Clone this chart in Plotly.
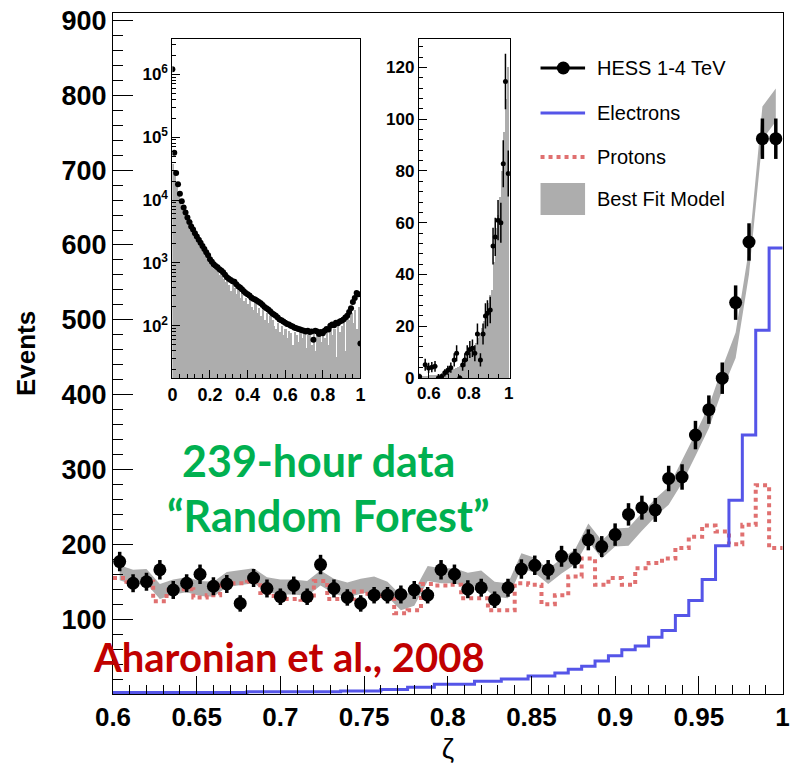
import numpy as np
import plotly.graph_objects as go

# ---------------- main panel data (50 bins of width 0.008 from 0.6 to 1.0) ----------------
bin_edges = np.linspace(0.6, 1.0, 51)
bin_centers = (bin_edges[:-1] + bin_edges[1:]) / 2

hess_events = [177, 148, 150, 166, 139, 148, 160, 144, 147, 121,
               155, 141, 130, 145, 130, 173, 141, 129, 121, 132,
               132, 133, 139, 132, 166, 160, 140, 142, 126, 142,
               167, 172, 166, 184, 181, 206, 197, 213, 240, 249,
               246, 288, 290, 346, 380, 422, 523, 604, 742, 742]
hess_errors = [13, 12, 12, 13, 12, 12, 13, 12, 12, 11,
               12, 12, 11, 12, 11, 13, 12, 11, 11, 11,
               11, 12, 12, 11, 13, 13, 12, 12, 11, 12,
               13, 13, 13, 14, 13, 14, 14, 15, 15, 16,
               16, 17, 17, 19, 19, 21, 23, 25, 27, 27]
model_center = [162, 156, 157, 137, 143, 146, 141, 140, 153, 156,
                158, 146, 143, 143, 141, 155, 144, 139, 144, 147,
                140, 122, 128, 161, 158, 158, 152, 155, 140, 138,
                178, 172, 157, 171, 183, 216, 193, 209, 210, 230,
                249, 265, 297, 333, 370, 421, 466, 578, 763, 787]
model_halfwidth = [10, 10, 10, 10, 10, 10, 10, 10, 10, 10,
                   10, 10, 10, 10, 10, 10, 10, 10, 10, 10,
                   10, 10, 10, 10, 10, 10, 10, 10, 10, 10,
                   10, 10, 10, 10, 10, 12, 12, 12, 12, 12,
                   12, 12, 15, 15, 15, 15, 17, 17, 22, 22]
electrons = [2, 2, 2, 2, 2, 2, 2, 2, 2, 2,
             3, 3, 3, 3, 3, 3, 3, 4, 4, 4,
             6, 6, 9, 9, 13, 13, 13, 17, 17, 20,
             20, 24, 24, 28, 33, 37, 44, 51, 59, 64,
             76, 85, 105, 125, 153, 198, 259, 346, 486, 596]
protons = [155, 150, 150, 124, 139, 140, 129, 132, 145, 148,
           150, 135, 127, 127, 126, 151, 127, 127, 137, 131,
           131, 108, 112, 147, 145, 146, 128, 128, 112, 112,
           148, 146, 120, 132, 157, 181, 146, 155, 146, 168,
           175, 181, 195, 210, 225, 217, 200, 226, 279, 195]

x_tickvals = [0.6, 0.65, 0.7, 0.75, 0.8, 0.85, 0.9, 0.95, 1.0]
x_ticktext = ["0.6", "0.65", "0.7", "0.75", "0.8", "0.85", "0.9", "0.95", "1"]
y_tickvals = [100, 200, 300, 400, 500, 600, 700, 800, 900]

# ---------------- inset 1 (log scale, zeta 0..1) ----------------
inset1_x = [round(0.01 * i, 2) for i in range(101)]
inset1_log_points = [6.08, 4.75, 4.43, 4.25, 4.10, 3.98, 3.88, 3.80, 3.72, 3.65,
                     3.58, 3.53, 3.47, 3.42, 3.37, 3.32, 3.27, 3.22, 3.17, 3.12,
                     3.06, 3.02, 2.98, 2.95, 2.93, 2.90, 2.88, 2.85, 2.81, 2.77,
                     2.75, 2.73, 2.71, 2.70, 2.66, 2.63, 2.61, 2.58, 2.55, 2.52,
                     2.50, 2.48, 2.45, 2.43, 2.42, 2.40, 2.38, 2.36, 2.33, 2.30,
                     2.28, 2.26, 2.23, 2.20, 2.18, 2.16, 2.13, 2.10, 2.09, 2.07,
                     2.05, 2.03, 2.02, 2.00, 1.99, 1.97, 1.96, 1.95, 1.94, 1.93,
                     1.92, 1.91, 1.92, 1.90, 1.91, 1.78, 1.92, 1.91, 1.87, 1.90,
                     1.88, 1.92, 1.95, 1.94, 2.00, 2.02, 2.01, 2.05, 2.04, 2.07,
                     2.08, 2.10, 2.13, 2.16, 2.22, 2.28, 2.38, 2.44, 2.52, 2.50,
                     1.72]
inset1_bar_x = [round(0.005 + 0.01 * i, 3) for i in range(100)]
inset1_log_bars = [4.58, 4.45, 4.25, 4.10, 3.98, 3.88, 3.80, 3.70, 3.62, 3.55,
                   3.66, 3.45, 3.40, 3.35, 3.30, 3.40, 3.20, 3.15, 3.10, 3.05,
                   3.00, 2.96, 2.90, 2.93, 2.85, 2.80, 2.85, 2.75, 2.70, 2.72,
                   2.65, 2.55, 2.68, 2.60, 2.50, 2.58, 2.45, 2.52, 2.40, 2.45,
                   2.35, 2.42, 2.30, 2.25, 2.38, 2.20, 2.28, 2.15, 2.25, 2.10,
                   2.20, 2.05, 2.15, 2.10, 2.00, 1.95, 2.05, 1.90, 2.00, 1.85,
                   1.95, 1.80, 1.92, 1.88, 1.70, 1.90, 1.85, 1.75, 1.90, 1.80,
                   1.88, 1.65, 1.85, 1.92, 1.70, 1.88, 1.60, 1.90, 1.85, 1.75,
                   1.95, 1.80, 1.90, 1.70, 2.00, 1.85, 1.95, 1.50, 2.05, 1.90,
                   2.00, 2.10, 1.60, 2.15, 2.10, 2.20, 2.05, 2.25, 1.95, 2.30]
inset1_y_tickvals = [1e2, 1e3, 1e4, 1e5, 1e6]
inset1_y_ticktext = ["10<sup>2</sup>", "10<sup>3</sup>", "10<sup>4</sup>",
                     "10<sup>5</sup>", "10<sup>6</sup>"]

# ---------------- inset 2 (linear, zeta 0.55..1) ----------------
inset2_x = [0.554, 0.582, 0.599, 0.615, 0.631, 0.648, 0.664, 0.68, 0.695, 0.71,
            0.727, 0.739, 0.755, 0.769, 0.78, 0.792, 0.805, 0.818, 0.83, 0.843,
            0.858, 0.871, 0.883, 0.893, 0.907, 0.921, 0.932, 0.946, 0.96, 0.972,
            0.983, 0.997]
inset2_y = [0.6, 5.1, 3.9, 4.2, 4.5, 0, 0.6, 2, 3, 4,
            7, 9.6, 0, 5, 7, 9.6, 11, 11.5, 9.6, 17,
            7, 17, 24, 25, 26.3, 51, 54.5, 61, 60, 82.8,
            114.6, 79]
inset2_err = [1, 2.3, 2, 2, 2.1, 1, 1, 1.4, 1.7, 2,
              2.6, 3.1, 1, 2.2, 2.6, 3.1, 3.3, 3.4, 3.1, 4.1,
              2.6, 4.1, 4.9, 5, 5.1, 7.1, 7.4, 7.8, 7.7, 9.1,
              10.7, 8.9]
inset2_bar_x = [round(0.555 + 0.01 * i, 3) for i in range(45)]
inset2_bars = [0.3, 0.5, 0.6, 0.8, 0.9, 1.0, 1.1, 1.2, 1.3, 1.5,
               1.7, 1.9, 2.1, 2.3, 2.5, 2.7, 3.0, 3.4, 3.8, 4.2,
               4.6, 5.5, 6.3, 7.0, 8.5, 9.8, 10.8, 12, 13.5, 15.5,
               17.5, 19.5, 22, 25, 29, 32, 34, 45, 58, 63,
               70, 80, 95, 108, 120]

# ---------------- styling ----------------
BLACK = "#000000"
GRAY = "#adadad"
BLUE = "#5555e8"
RED = "#e07070"
FONT = "Liberation Sans"

W, H = 792, 764
ML, MR, MT, MB = 113, 2, 13, 70
PW, PH = W - ML - MR, H - MT - MB


def px(xp):
    return (xp - ML) / PW


def py(yp):
    return (H - MB - yp) / PH


fig = go.Figure()

# model band
lower = [c - h for c, h in zip(model_center, model_halfwidth)]
upper = [c + h for c, h in zip(model_center, model_halfwidth)]
fig.add_trace(go.Scatter(x=bin_centers, y=lower, mode="lines", line=dict(width=0, color=GRAY),
                         showlegend=False, hoverinfo="skip"))
fig.add_trace(go.Scatter(x=bin_centers, y=upper, mode="lines", line=dict(width=0, color=GRAY),
                         fill="tonexty", fillcolor=GRAY, showlegend=False, name="Best Fit Model"))

# protons / electrons step histograms
fig.add_trace(go.Scatter(x=bin_edges, y=protons + [protons[-1]], mode="lines", line_shape="hv",
                         line=dict(color=RED, width=4, dash="dot"), showlegend=False, name="Protons"))
fig.add_trace(go.Scatter(x=bin_edges, y=electrons + [electrons[-1]], mode="lines", line_shape="hv",
                         line=dict(color=BLUE, width=3), showlegend=False, name="Electrons"))

# data points
fig.add_trace(go.Scatter(x=bin_centers, y=hess_events, mode="markers",
                         marker=dict(color=BLACK, size=13),
                         error_y=dict(type="data", array=hess_errors, color=BLACK, thickness=3.5, width=0),
                         showlegend=False, name="HESS 1-4 TeV"))

# inset 1
fig.add_trace(go.Bar(x=inset1_bar_x, y=[10 ** v for v in inset1_log_bars], width=0.01,
                     marker=dict(color=GRAY, line=dict(width=0)), xaxis="x2", yaxis="y2",
                     showlegend=False))
fig.add_trace(go.Scatter(x=inset1_x, y=[10 ** v for v in inset1_log_points], mode="markers",
                         marker=dict(color=BLACK, size=6), xaxis="x2", yaxis="y2", showlegend=False))

# inset 2
fig.add_trace(go.Bar(x=inset2_bar_x, y=inset2_bars, width=0.01,
                     marker=dict(color=GRAY, line=dict(width=0)), xaxis="x3", yaxis="y3",
                     showlegend=False))
fig.add_trace(go.Scatter(x=inset2_x, y=inset2_y, mode="markers",
                         marker=dict(color=BLACK, size=5),
                         error_y=dict(type="data", array=inset2_err, color=BLACK, thickness=1.5, width=0),
                         xaxis="x3", yaxis="y3", showlegend=False))

axis_common = dict(showgrid=False, zeroline=False, showline=True, linecolor=BLACK, linewidth=1,
                   mirror=True, ticks="inside", tickcolor=BLACK)

inset1_minor = [m * 10 ** d for d in range(1, 7) for m in range(2, 10)]

fig.update_layout(
    width=W, height=H,
    margin=dict(l=ML, r=MR, t=MT, b=MB),
    paper_bgcolor="white", plot_bgcolor="white",
    font=dict(family=FONT, color=BLACK),
    bargap=0,
    xaxis=dict(**axis_common, range=[0.6, 1.0003], tickvals=x_tickvals, ticktext=x_ticktext,
               ticklen=18, tickfont=dict(size=26, weight="bold", family=FONT),
               minor=dict(ticks="inside", ticklen=9, dtick=0.01, tick0=0.6, tickcolor=BLACK),
               title=dict(text="ζ", font=dict(size=28, family=FONT), standoff=8)),
    yaxis=dict(**axis_common, range=[0, 910], tickvals=y_tickvals,
               ticklen=20, tickfont=dict(size=27, weight="bold", family=FONT),
               minor=dict(ticks="inside", ticklen=10, dtick=20, tick0=0, tickcolor=BLACK),
               title=dict(text="Events", font=dict(size=26, weight="bold", family=FONT), standoff=18)),
    xaxis2=dict(**axis_common, domain=[px(173), px(363)], anchor="y2", range=[0, 1.0],
                tickvals=[0, 0.2, 0.4, 0.6, 0.8, 1.0], ticktext=["0", "0.2", "0.4", "0.6", "0.8", "1"],
                ticklen=8, tickfont=dict(size=18, weight="bold", family=FONT),
                minor=dict(ticks="inside", ticklen=4, dtick=0.04, tick0=0, tickcolor=BLACK)),
    yaxis2=dict(**axis_common, domain=[py(378), py(39)], anchor="x2", type="log",
                range=[1.17, 6.56], tickvals=inset1_y_tickvals, ticktext=inset1_y_ticktext,
                ticklen=8, tickfont=dict(size=17, weight="bold", family=FONT),
                minor=dict(ticks="inside", ticklen=4, tickvals=inset1_minor, tickcolor=BLACK)),
    xaxis3=dict(**axis_common, domain=[px(422), px(514)], anchor="y3", range=[0.55, 1.005],
                tickvals=[0.6, 0.8, 1.0], ticktext=["0.6", "0.8", "1"],
                ticklen=8, tickfont=dict(size=17, weight="bold", family=FONT),
                minor=dict(ticks="inside", ticklen=4, dtick=0.05, tick0=0.55, tickcolor=BLACK)),
    yaxis3=dict(**axis_common, domain=[py(378), py(39)], anchor="x3", range=[0, 131],
                tickvals=[0, 20, 40, 60, 80, 100, 120],
                ticklen=8, tickfont=dict(size=17, weight="bold", family=FONT),
                minor=dict(ticks="inside", ticklen=4, dtick=4, tick0=0, tickcolor=BLACK)),
)

# ---------------- legend (drawn manually) ----------------
lx0, lx1 = px(545), px(590)
legend_rows = [("HESS 1-4 TeV", 68), ("Electrons", 113), ("Protons", 157), ("Best Fit Model", 199)]
shapes = [
    dict(type="line", xref="paper", yref="paper", x0=lx0, x1=lx1, y0=py(68), y1=py(68),
         line=dict(color=BLACK, width=3)),
    dict(type="circle", xref="paper", yref="paper", xsizemode="pixel", ysizemode="pixel",
         xanchor=px(568), yanchor=py(68), x0=-6.5, x1=6.5, y0=-6.5, y1=6.5,
         fillcolor=BLACK, line=dict(color=BLACK, width=0)),
    dict(type="line", xref="paper", yref="paper", x0=lx0, x1=lx1, y0=py(113), y1=py(113),
         line=dict(color=BLUE, width=3)),
    dict(type="line", xref="paper", yref="paper", x0=lx0, x1=lx1, y0=py(157), y1=py(157),
         line=dict(color=RED, width=4, dash="dot")),
    dict(type="rect", xref="paper", yref="paper", x0=lx0, x1=lx1, y0=py(215), y1=py(183),
         fillcolor=GRAY, line=dict(width=0)),
]
fig.update_layout(shapes=shapes)

annotations = []
for label, ypix in legend_rows:
    annotations.append(dict(text=label, xref="paper", yref="paper", x=px(600), y=py(ypix),
                            xanchor="left", yanchor="middle", showarrow=False,
                            font=dict(size=20, family=FONT, color=BLACK)))

annotations += [
    dict(text="239-hour data", xref="paper", yref="paper", x=px(321), y=py(460),
         xanchor="center", yanchor="middle", showarrow=False,
         font=dict(size=43, family="Lato", weight="bold", color="#00b050")),
    dict(text="\u201cRandom Forest\u201d", xref="paper", yref="paper", x=px(331), y=py(515),
         xanchor="center", yanchor="middle", showarrow=False,
         font=dict(size=43, family="Lato", weight="bold", color="#00b050")),
    dict(text="Aharonian et al., 2008", xref="paper", yref="paper", x=px(291), y=py(657),
         xanchor="center", yanchor="middle", showarrow=False,
         font=dict(size=40, family="Lato", weight="bold", color="#c00000")),
]
fig.update_layout(annotations=annotations)

fig.write_html("out.html")
